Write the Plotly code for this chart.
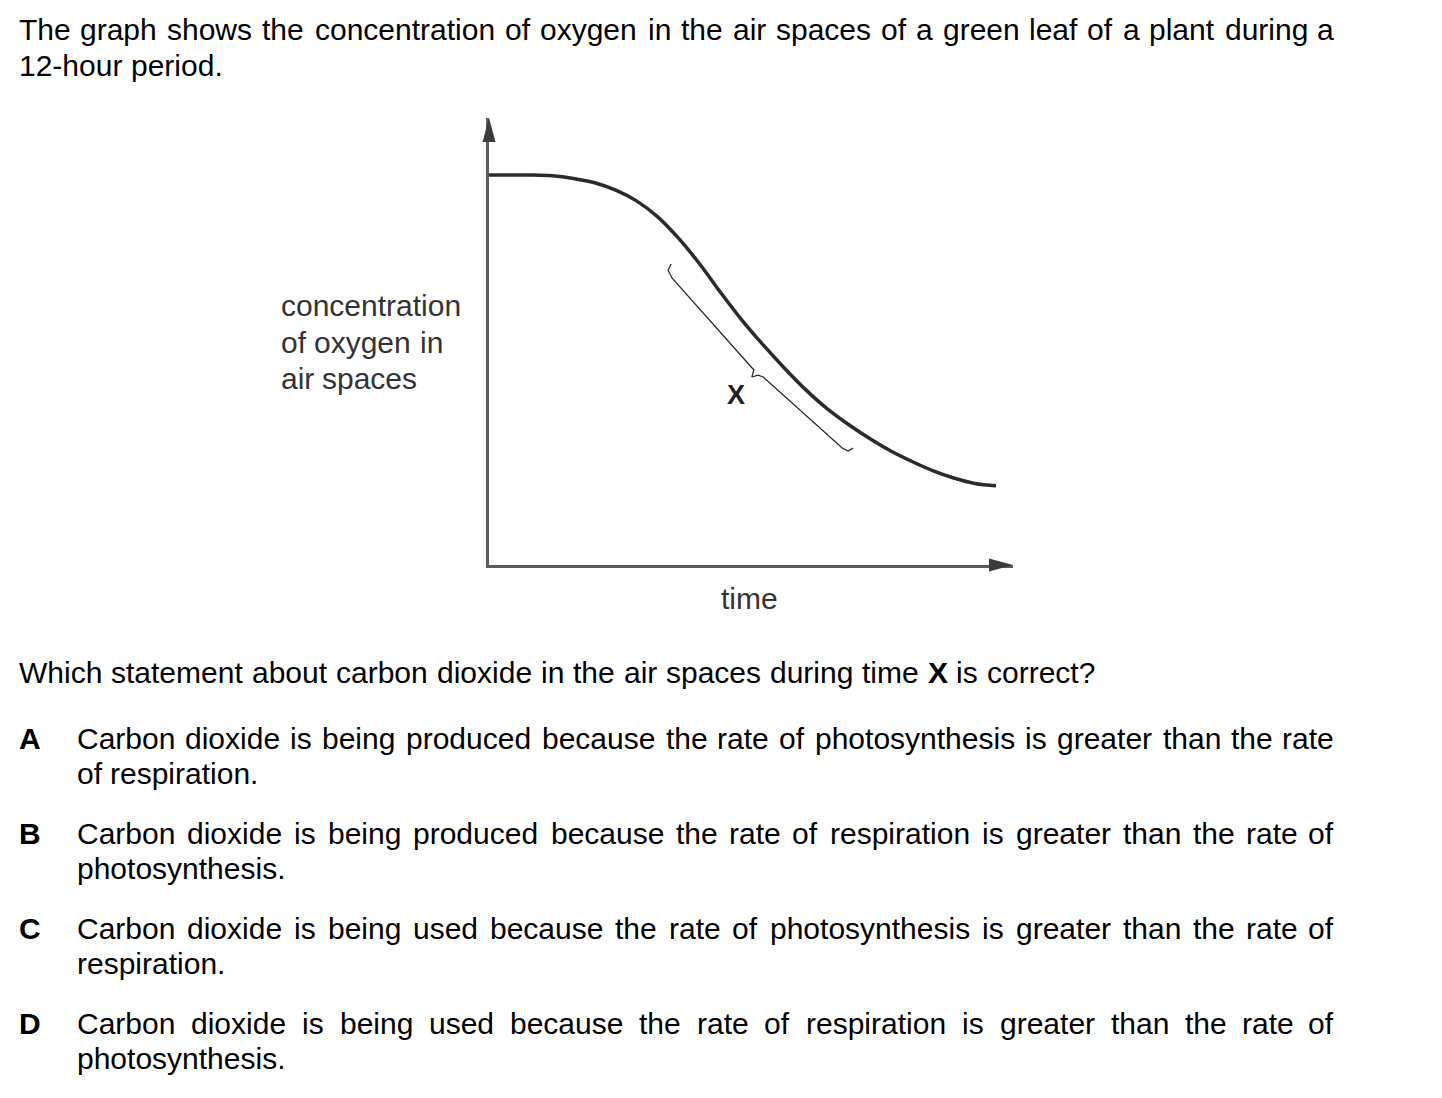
import plotly.graph_objects as go

# ---------------- data ----------------
time_h = [0, 0.5, 1, 1.5, 2, 2.5, 3, 3.5, 4, 4.5, 5, 5.5, 6, 6.5, 7, 7.5,
          8, 8.5, 9, 9.5, 10, 10.5, 11, 11.5, 12]
oxygen = [10.0, 10.0, 10.0, 9.98, 9.91, 9.80, 9.61, 9.33, 8.92, 8.36, 7.70,
          6.96, 6.26, 5.63, 5.04, 4.49, 4.01, 3.61, 3.25, 2.93, 2.66, 2.42,
          2.23, 2.09, 2.03]

# brace marking time X (hours, concentration units)
bracket_t = [4.31, 4.24, 4.33, 6.18, 6.27, 6.22, 6.37, 6.49, 8.36, 8.50, 8.62]
bracket_c = [7.72, 7.56, 7.36, 5.13, 5.00, 4.82, 4.87, 4.82, 3.00, 2.92, 3.00]

intro_lines = [
    "The graph shows the concentration of oxygen in the air spaces of a green leaf of a plant during a",
    "12-hour period.",
]
y_label_lines = ["concentration", "of oxygen in", "air spaces"]
x_label = "time"
bracket_label = "X"
question = "Which statement about carbon dioxide in the air spaces during time X is correct?"
option_letters = ["A", "B", "C", "D"]
option_lines = [
    ["Carbon dioxide is being produced because the rate of photosynthesis is greater than the rate",
     "of respiration."],
    ["Carbon dioxide is being produced because the rate of respiration is greater than the rate of",
     "photosynthesis."],
    ["Carbon dioxide is being used because the rate of photosynthesis is greater than the rate of",
     "respiration."],
    ["Carbon dioxide is being used because the rate of respiration is greater than the rate of",
     "photosynthesis."],
]

# ---------------- layout constants (pixels) ----------------
W, H = 1442, 1098
ORIGIN_X, ORIGIN_Y = 489, 565
PX_PER_HOUR, PX_PER_UNIT = 42.25, 39.0
X_TIP, Y_TIP = 1013, 118
FONT = "Liberation Sans, Arial, Helvetica, sans-serif"
FS = 30
EM = 30.25  # horizontal advance per em in the reference

AW = {' ': 278, '.': 278, ',': 278, '-': 333, '?': 556,
      'A': 667, 'B': 667, 'C': 722, 'D': 722, 'E': 667, 'F': 611, 'G': 778, 'H': 722,
      'I': 278, 'J': 500, 'K': 667, 'L': 556, 'M': 833, 'N': 722, 'O': 778, 'P': 667,
      'Q': 778, 'R': 722, 'S': 667, 'T': 611, 'U': 722, 'V': 667, 'W': 944, 'X': 667,
      'Y': 667, 'Z': 611,
      'a': 556, 'b': 556, 'c': 500, 'd': 556, 'e': 556, 'f': 278, 'g': 556, 'h': 556,
      'i': 222, 'j': 222, 'k': 500, 'l': 222, 'm': 833, 'n': 556, 'o': 556, 'p': 556,
      'q': 556, 'r': 333, 's': 500, 't': 278, 'u': 556, 'v': 500, 'w': 722, 'x': 500,
      'y': 500, 'z': 500}
for d in "0123456789":
    AW[d] = 556
AWB = {'A': 722, 'B': 722, 'C': 722, 'D': 722, 'X': 667}


def word_w(word, bold=False):
    tab = AWB if bold else AW
    return sum(tab.get(ch, AW.get(ch, 556)) for ch in word) / 1000.0 * EM


annotations = []


def add_text(text, x, y, anchor="left", bold=False, color="black", size=FS):
    annotations.append(dict(
        x=x, y=y, xref="x2", yref="y2", showarrow=False, borderpad=0,
        text=("<b>%s</b>" % text) if bold else text,
        xanchor=anchor, yanchor="middle",
        font=dict(family=FONT, size=size, color=color)))


def place_line(text, x0, yc, x1=None, bold_words=(), color="black", size=FS):
    words = text.split(" ")
    bolds = [w in bold_words for w in words]
    widths = [word_w(w, b) for w, b in zip(words, bolds)]
    n = len(words)
    if x1 is not None and n > 1:
        gap = (x1 - x0 - sum(widths)) / (n - 1)
    else:
        gap = AW[' '] / 1000.0 * EM
    x = x0
    for i, (w, b, wd) in enumerate(zip(words, bolds, widths)):
        if i == 0:
            add_text(w, x, yc, "left", b, color, size)
        elif x1 is not None and i == n - 1:
            add_text(w, x1, yc, "right", b, color, size)
        else:
            add_text(w, x + wd / 2.0, yc, "center", b, color, size)
        x += wd + gap


DY = -1.5  # vertical fine-tune of text

# intro text
place_line(intro_lines[0], 18, 31 + DY, x1=1335)
place_line(intro_lines[1], 18, 67 + DY)

# chart labels
for i, ln in enumerate(y_label_lines):
    place_line(ln, 280, 307 + DY + 36.5 * i, color="#333333")
add_text(x_label, 749, 600 + DY, "center", color="#333333")
add_text(bracket_label, 736, 396 + DY, "center", bold=True, color="#222222", size=27)

# question
place_line(question, 18, 674 + DY, bold_words=("X",))

# options
opt_y = [740, 835, 930, 1025]
for letter, lines, yc in zip(option_letters, option_lines, opt_y):
    add_text(letter, 18, yc + DY, "left", bold=True)
    place_line(lines[0], 76, yc + DY, x1=1335)
    place_line(lines[1], 76, yc + 35 + DY)

fig = go.Figure()
fig.add_trace(go.Scatter(
    x=time_h, y=oxygen, mode="lines", xaxis="x", yaxis="y",
    line=dict(color="#2b2b2b", width=3.5, shape="spline", smoothing=1.0),
    hoverinfo="skip"))
fig.add_trace(go.Scatter(
    x=bracket_t, y=bracket_c, mode="lines", xaxis="x", yaxis="y",
    line=dict(color="#222222", width=1.2), hoverinfo="skip"))

shapes = [
    dict(type="path", xref="x2", yref="y2",
         path="M %g,%g L %g,%g L %g,%g Z" % (ORIGIN_X, Y_TIP, ORIGIN_X - 6.5, Y_TIP + 24,
                                             ORIGIN_X + 6.5, Y_TIP + 24),
         fillcolor="#3c3c3c", line=dict(width=0)),
    dict(type="path", xref="x2", yref="y2",
         path="M %g,%g L %g,%g L %g,%g Z" % (X_TIP, ORIGIN_Y, X_TIP - 24, ORIGIN_Y - 6.5,
                                             X_TIP - 24, ORIGIN_Y + 6.5),
         fillcolor="#3c3c3c", line=dict(width=0)),
]

axis_common = dict(showgrid=False, zeroline=False, showticklabels=False, ticks="",
                   fixedrange=True, showline=True, linecolor="#5c5c5c", linewidth=3)
fig.update_layout(
    width=W, height=H, margin=dict(l=0, r=0, t=0, b=0),
    paper_bgcolor="white", plot_bgcolor="rgba(0,0,0,0)", showlegend=False,
    xaxis=dict(domain=[ORIGIN_X / W, X_TIP / W],
               range=[0, (X_TIP - ORIGIN_X) / PX_PER_HOUR], anchor="y", **axis_common),
    yaxis=dict(domain=[1 - ORIGIN_Y / H, 1 - Y_TIP / H],
               range=[0, (ORIGIN_Y - Y_TIP) / PX_PER_UNIT], anchor="x", **axis_common),
    xaxis2=dict(domain=[0, 1], range=[0, W], visible=False, anchor="y2", fixedrange=True),
    yaxis2=dict(domain=[0, 1], range=[H, 0], visible=False, anchor="x2", fixedrange=True),
    annotations=annotations, shapes=shapes,
)

fig.write_html("out.html", config={"displayModeBar": False},
               post_script="document.body.style.margin='0';"
                           "document.documentElement.style.overflow='hidden';")
